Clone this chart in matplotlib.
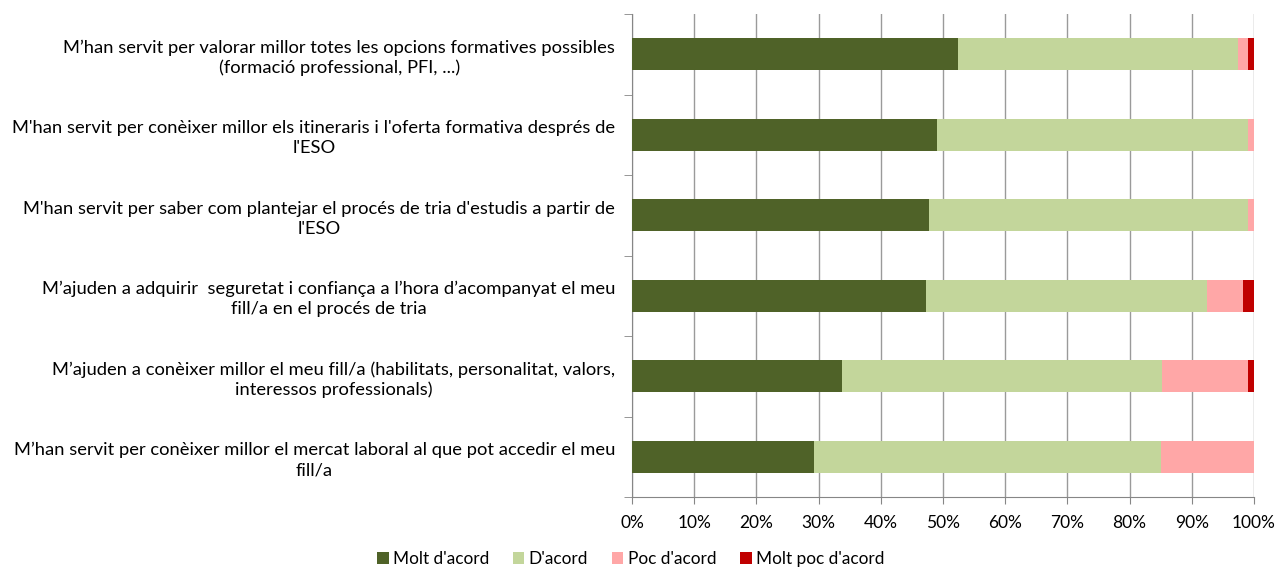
import matplotlib
matplotlib.use("Agg")
import matplotlib.pyplot as plt
from matplotlib.ticker import FixedLocator, PercentFormatter
import numpy as np

plt.rcParams['font.family'] = ['Lato', 'DejaVu Sans']

categories = [
    "M\u2019han servit per valorar millor totes les opcions formatives possibles\n(formació professional, PFI, ...)",
    "M'han servit per conèixer millor els itineraris i l'oferta formativa després de\nl'ESO",
    "M'han servit per saber com plantejar el procés de tria d'estudis a partir de\nl'ESO",
    "M\u2019ajuden a adquirir  seguretat i confiança a l\u2019hora d\u2019acompanyat el meu\nfill/a en el procés de tria",
    "M\u2019ajuden a conèixer millor el meu fill/a (habilitats, personalitat, valors,\ninteressos professionals)",
    "M\u2019han servit per conèixer millor el mercat laboral al que pot accedir el meu\nfill/a",
]
series_names = ["Molt d'acord", "D'acord", "Poc d'acord", "Molt poc d'acord"]
molt_acord = [52.4, 49.0, 47.7, 47.3, 33.8, 29.3]
acord = [45.0, 50.1, 51.4, 45.2, 51.4, 55.7]
poc_acord = [1.7, 0.9, 0.9, 5.7, 13.9, 15.0]
molt_poc_acord = [0.9, 0.0, 0.0, 1.8, 0.9, 0.0]
colors = ["#4F6228", "#C3D69B", "#FFA7A7", "#C00000"]

fig = plt.figure(figsize=(12.77, 5.69), dpi=100)
ax = fig.add_axes([632/1277, 1 - 497/569, 622/1277, 483/569])

y = np.arange(len(categories))
left = np.zeros(len(categories))
for vals, name, c in zip([molt_acord, acord, poc_acord, molt_poc_acord], series_names, colors):
    v = np.array(vals)
    ax.barh(y, v, left=left, height=0.4, color=c, label=name, zorder=3)
    left += v

ax.set_ylim(len(categories) - 0.5, -0.5)
ax.set_xlim(0, 100)
ax.set_yticks(y)
ax.set_yticklabels(categories, fontsize=13.2, multialignment='center', color='#000000',
                   linespacing=1.3)
ax.tick_params(axis='y', which='major', length=0, pad=12)
ax.yaxis.set_minor_locator(FixedLocator(np.arange(-0.5, len(categories), 1)))
ax.tick_params(axis='y', which='minor', length=6, color='#868686', direction='out')

ax.set_xticks(np.arange(0, 101, 10))
ax.xaxis.set_major_formatter(PercentFormatter(decimals=0))
ax.tick_params(axis='x', length=5, color='#868686', labelsize=12.5, pad=8)
ax.grid(axis='x', color='#9a9a9a', linewidth=1, zorder=0)

for s in ['top', 'right']:
    ax.spines[s].set_visible(False)
for s in ['left', 'bottom']:
    ax.spines[s].set_color('#868686')

fig.legend(loc='lower center', bbox_to_anchor=(0.494, -0.024), ncol=4, frameon=False,
           fontsize=12.4, handlelength=0.65, handleheight=0.65, handletextpad=0.25,
           columnspacing=1.4)

fig.savefig("out.png", dpi=100)
